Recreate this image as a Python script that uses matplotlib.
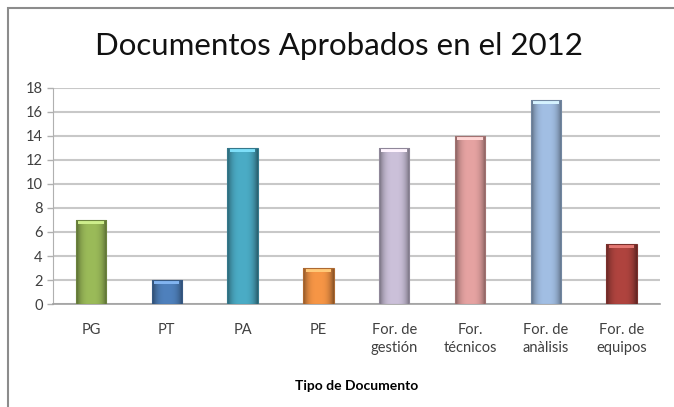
import matplotlib
matplotlib.use("Agg")
import matplotlib.pyplot as plt
import numpy as np
from matplotlib.colors import to_rgb
from matplotlib.patches import Rectangle

categories = ["PG", "PT", "PA", "PE", "For. de\ngestión", "For.\ntécnicos", "For. de\nanàlisis", "For. de\nequipos"]
values = [7, 2, 13, 3, 13, 14, 17, 5]
colors = ["#9bbb59", "#4f81bd", "#4bacc6", "#f79646", "#ccc1da", "#e6a3a2", "#a2bfe4", "#b0443f"]
yticks = [0, 2, 4, 6, 8, 10, 12, 14, 16, 18]

plt.rcParams['font.family'] = ['Lato', 'DejaVu Sans']

fig = plt.figure(figsize=(6.74, 4.07), dpi=100)
fig.patches.append(Rectangle((0.012, -0.02), 1.0, 1.0, transform=fig.transFigure,
                             fill=False, edgecolor="#8c8c8c", linewidth=1.5))
ax = fig.add_axes([0.0786, 0.253, 0.900, 0.531])

x = np.arange(len(categories))
bars = ax.bar(x, values, width=0.4, color=colors, zorder=2)
ax.set_xlim(-0.5, len(categories) - 0.5)
ax.set_ylim(0, 18)

# cylinder-like shading
for b, c in zip(bars, colors):
    base = np.array(to_rgb(c))
    t = np.linspace(0, 1, 64)
    shade = 1 - 0.45 * (np.abs(t - 0.5) * 2) ** 3
    img = np.clip(base[None, :] * shade[:, None], 0, 1)[None, :, :]
    x0, w, h = b.get_x(), b.get_width(), b.get_height()
    im = ax.imshow(img, extent=(x0, x0 + w, 0, h), aspect='auto', zorder=3,
                   interpolation='bilinear')
    im.set_clip_path(b)
    ax.add_patch(Rectangle((x0 + w * 0.08, h - 0.3), w * 0.84, 0.25,
                           color=np.clip(base + 0.2, 0, 1), zorder=4, linewidth=0))
    b.set_edgecolor(base * 0.7)
    b.set_linewidth(0.8)
    b.set_zorder(5)
    b.set_facecolor('none')

ax.set_yticks(yticks)
ax.yaxis.grid(True, color="#c8c8c8", linewidth=1.5, zorder=0)
ax.set_axisbelow(True)
for s in ["top", "right"]:
    ax.spines[s].set_visible(False)
ax.spines["left"].set_color("#b0b0b0")
ax.spines["bottom"].set_color("#a0a0a0")
ax.spines["bottom"].set_linewidth(1.2)
ax.tick_params(axis='y', colors="#404040", labelsize=10.5, length=4, width=1, color="#b0b0b0")
ax.tick_params(axis='x', length=0, pad=14, labelsize=10.5, labelcolor="#404040")
ax.set_xticks(x)
ax.set_xticklabels(categories, linespacing=1.3)
ax.set_xlabel("Tipo de Documento", fontsize=10, fontweight='bold', labelpad=18)

fig.text(0.503, 0.888, "Documentos Aprobados en el 2012", ha='center', va='center',
         fontsize=22.5, color="#111111")

fig.savefig("out.png", dpi=100)
